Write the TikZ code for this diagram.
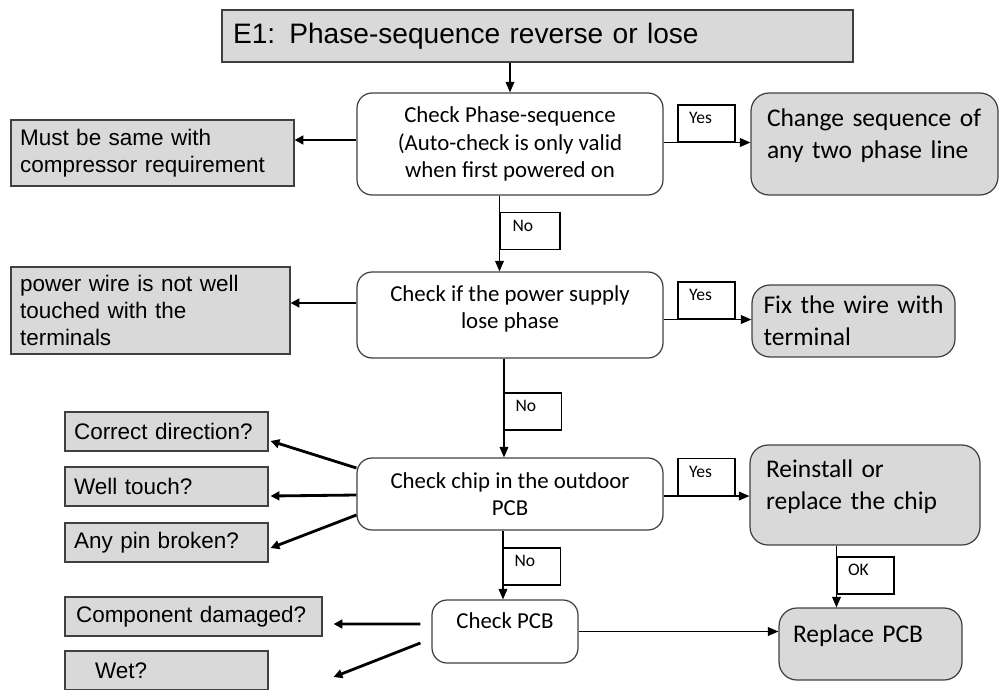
\documentclass[tikz,border=0pt]{standalone}
\usepackage{fontspec}
\setmainfont{Carlito}
\newfontfamily\arialfont{Liberation Sans}
\usetikzlibrary{arrows.meta,calc}
\newcommand{\tailpad}[1]{\rule[-#1]{0pt}{#1}}
\definecolor{boxgrey}{HTML}{D9D9D9}
\definecolor{edgegrey}{HTML}{404040}

\begin{document}
\begin{tikzpicture}[x=0.02cm, y=-0.02cm,
    check/.style={draw=edgegrey, line width=0.7pt, rounded corners=0.3cm, fill=white, align=center, inner sep=0pt, font=\fontsize{13}{15.5}\selectfont},
    fix/.style={draw=edgegrey, line width=0.7pt, rounded corners=0.36cm, fill=boxgrey, align=left, inner sep=0pt, font=\fontsize{14.5}{18}\selectfont},
    hint/.style={draw=edgegrey, line width=0.7pt, fill=boxgrey, align=left, inner sep=0pt, font=\arialfont\fontsize{12.8}{15.5}\selectfont},
    tag/.style={draw=black, line width=0.6pt, minimum width=1.14cm, minimum height=0.74cm, text width=0.7cm, align=left, inner sep=0pt, font=\fontsize{10}{12}\selectfont, execute at end node=\tailpad{6pt}},
    flow/.style={line width=0.7pt, -{Triangle[length=6pt, width=5pt]}},
    side/.style={line width=1.6pt, -{Triangle[length=5pt, width=5pt]}}]
    \useasboundingbox (0,0) rectangle (999,689);

    \node[hint, font=\arialfont\fontsize{16}{19}\selectfont, minimum width=12.62cm, minimum height=1.04cm, text width=12.18cm] (title) at (537.5,36) {E1: Phase-sequence reverse or lose};

    % checks in the middle column
    \node[check, minimum width=6.12cm, minimum height=2.04cm] (c1) at (510,144) {Check Phase-sequence\\(Auto-check is only valid\\when first powered on};
    \node[check, minimum width=6.12cm, minimum height=1.72cm] (c2) at (510,315) {Check if the power supply\\lose phase\tailpad{9pt}};
    \node[check, minimum width=6.12cm, minimum height=1.44cm] (c3) at (510,494) {Check chip in the outdoor\\PCB};
    \node[check, minimum width=2.92cm, minimum height=1.26cm] (c4) at (505,631.5) {Check PCB\tailpad{12pt}};

    % remedies
    \node[fix, minimum width=4.94cm, minimum height=2.04cm, text width=4.3cm] (r1) at (874.5,144) {Change sequence of\\any two phase line\tailpad{12pt}};
    \node[fix, minimum width=4.06cm, minimum height=1.44cm, text width=3.6cm] (r2) at (853.5,321) {Fix the wire with\\terminal};
    \node[fix, minimum width=4.6cm, minimum height=2cm, text width=3.96cm] (r3) at (865,495) {Reinstall or\\replace the chip\tailpad{12pt}};
    \node[fix, minimum width=3.66cm, minimum height=1.44cm, text width=3.1cm] (r4) at (870.5,644) {Replace PCB\tailpad{12pt}};

    % hints on the left
    \node[hint, minimum width=5.66cm, minimum height=1.32cm, text width=5.3cm] (l1) at (152.5,153) {Must be same with\\compressor requirement};
    \node[hint, minimum width=5.58cm, minimum height=1.74cm, text width=5.22cm] (l2) at (150.5,310.5) {power wire is not well\\touched with the\\terminals};
    \node[hint, minimum width=4.06cm, minimum height=0.78cm, text width=3.7cm] (l3a) at (166.5,431.5) {Correct direction?};
    \node[hint, minimum width=4.06cm, minimum height=0.78cm, text width=3.7cm] (l3b) at (166.5,486.5) {Well touch?};
    \node[hint, minimum width=4.06cm, minimum height=0.78cm, text width=3.7cm] (l3c) at (166.5,542.5) {Any pin broken?};
    \node[hint, minimum width=5.14cm, minimum height=0.78cm, text width=4.7cm] (l4a) at (193.5,616.5) {Component damaged?};
    \node[hint, minimum width=4.06cm, minimum height=0.78cm, text width=3.7cm] (l4b) at (166.5,670.5) {\hspace*{0.42cm}Wet?};

    % answer tags
    \node[tag] (y1) at (706.5,123.5) {Yes};
    \node[tag] (y2) at (706.5,300.5) {Yes};
    \node[tag] (y3) at (706.5,477) {Yes};
    \node[tag, minimum width=1.2cm] (n1) at (530,231) {No};
    \node[tag] (n2) at (533,411.5) {No};
    \node[tag] (n3) at (532,566.5) {No};
    \node[tag] (ok) at (865.5,575.5) {OK};

    \draw[flow] (title.south -| c1.north) -- (c1.north);
    \draw[flow] (c1.east |- y1.south) -- (r1.west |- y1.south);
    \draw[flow] (c1.south -| n1.west) -- (c2.north -| n1.west);
    \draw[flow] (c2.east |- y2.south) -- (r2.west |- y2.south);
    \draw[flow] (c2.south -| n2.west) -- (c3.north -| n2.west);
    \draw[flow] (c3.east |- y3.south) -- (r3.west |- y3.south);
    \draw[flow] (c3.south -| n3.west) -- (c4.north -| n3.west);
    \draw[flow] (r3.south -| ok.west) -- (r4.north -| ok.west);
    \draw[flow] (c4.east) -- (c4.east -| r4.west);

    \draw[side] ($(c1.west)+(0,-4)$) -- ($(l1.east)+(0,-13)$);
    \draw[side] ($(c2.west)+(0,-12)$) -- ($(l2.east)+(0,-7.5)$);
    \draw[side] ($(c3.west)+(0,-26)$) -- ($(l3a.east)+(2,9.5)$);
    \draw[side] ($(c3.west)+(0,1)$) -- ($(l3b.east)+(2,9.5)$);
    \draw[side] ($(c3.west)+(0,21)$) -- ($(l3c.east)+(2,5.5)$);
    \draw[side] ($(c4.west)+(-11,-7.5)$) -- ($(l4a.east)+(11,7.5)$);
    \draw[side] ($(c4.west)+(-11,11.5)$) -- ($(l4b.east)+(65,6.5)$);
\end{tikzpicture}
\end{document}
